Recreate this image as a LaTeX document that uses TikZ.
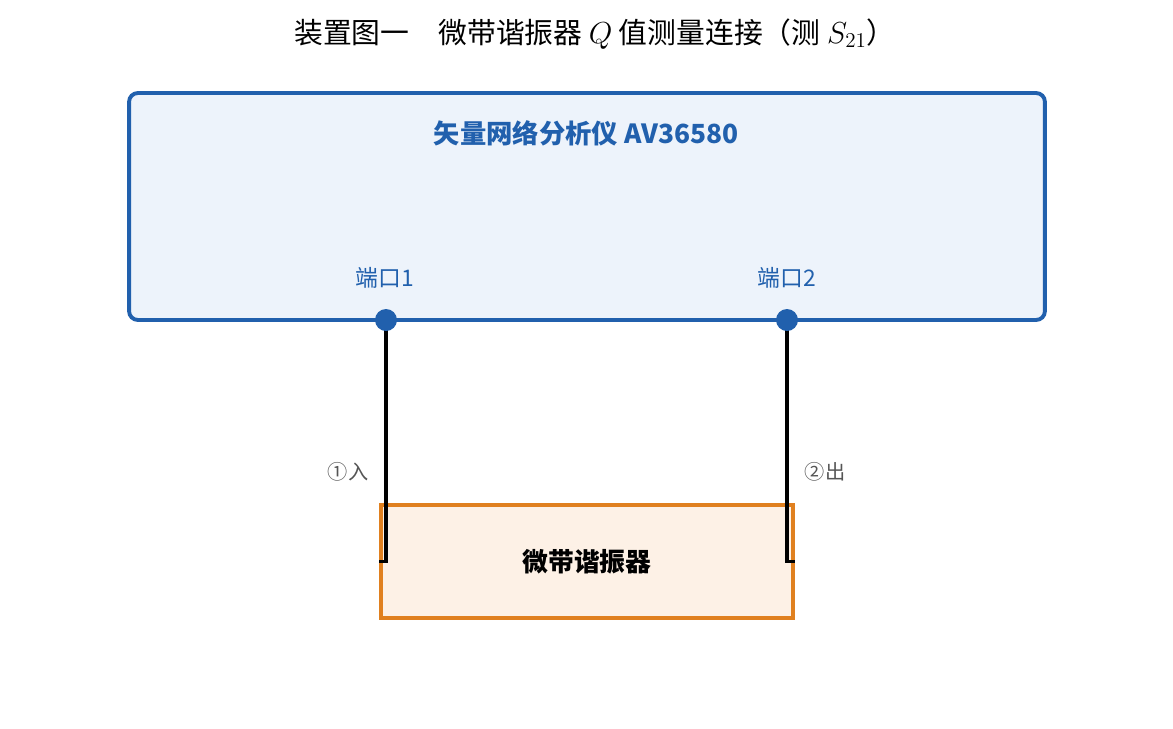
\documentclass[tikz,border=0pt]{standalone}
\usepackage{fontspec}
\setmainfont{Noto Sans CJK SC}
\definecolor{vnablue}{HTML}{2160AD}
\definecolor{vnafill}{HTML}{EDF3FB}
\definecolor{resorange}{HTML}{E0801F}
\definecolor{resfill}{HTML}{FDF1E6}
\definecolor{labelgray}{HTML}{555555}
\begin{document}
\begin{tikzpicture}[x=0.02cm,y=-0.02cm,
    vnabox/.style={draw=vnablue,fill=vnafill,line width=2.2pt,rounded corners=5pt,
        minimum width=18.32cm,minimum height=4.54cm},
    resbox/.style={draw=resorange,fill=resfill,line width=2pt,
        minimum width=8.24cm,minimum height=2.26cm,font=\fontsize{14.7}{17}\selectfont\bfseries},
    cable/.style={line width=2pt,black},
    portdot/.style={circle,fill=vnablue,inner sep=0pt,minimum size=0.44cm},
    portlabel/.style={text=vnablue,font=\fontsize{13}{15}\selectfont},
    cablelabel/.style={text=labelgray,font=\fontsize{11.5}{13}\selectfont}]
\useasboundingbox (0,0) rectangle (1173,728);
% title
\node (title) at (595,34) {\fontsize{16.4}{19}\selectfont 装置图一\quad 微带谐振器 $Q$ 值测量连接（测 $S_{21}$）};
% vector network analyser
\node[vnabox] (vna) at (587,206.5) {};
\node[text=vnablue,font=\fontsize{15}{17}\selectfont\bfseries] (vnaname) at (586,133) {矢量网络分析仪 AV36580};
\node[portlabel] (lab1) at (385,278) {端口1};
\node[portlabel] (lab2) at (787,278) {端口2};
\coordinate (p1) at (386,320);
\coordinate (p2) at (787,320);
% resonator
\node[resbox] (res) at (587,561.5) {微带谐振器};
% cables
\draw[cable] (p1) |- (res.west);
\draw[cable] (p2) |- (res.east);
\node[portdot] (dot1) at (p1) {};
\node[portdot] (dot2) at (p2) {};
\node[cablelabel] (in) at (348,472) {①入};
\node[cablelabel] (out) at (825,472) {②出};
\end{tikzpicture}
\end{document}
